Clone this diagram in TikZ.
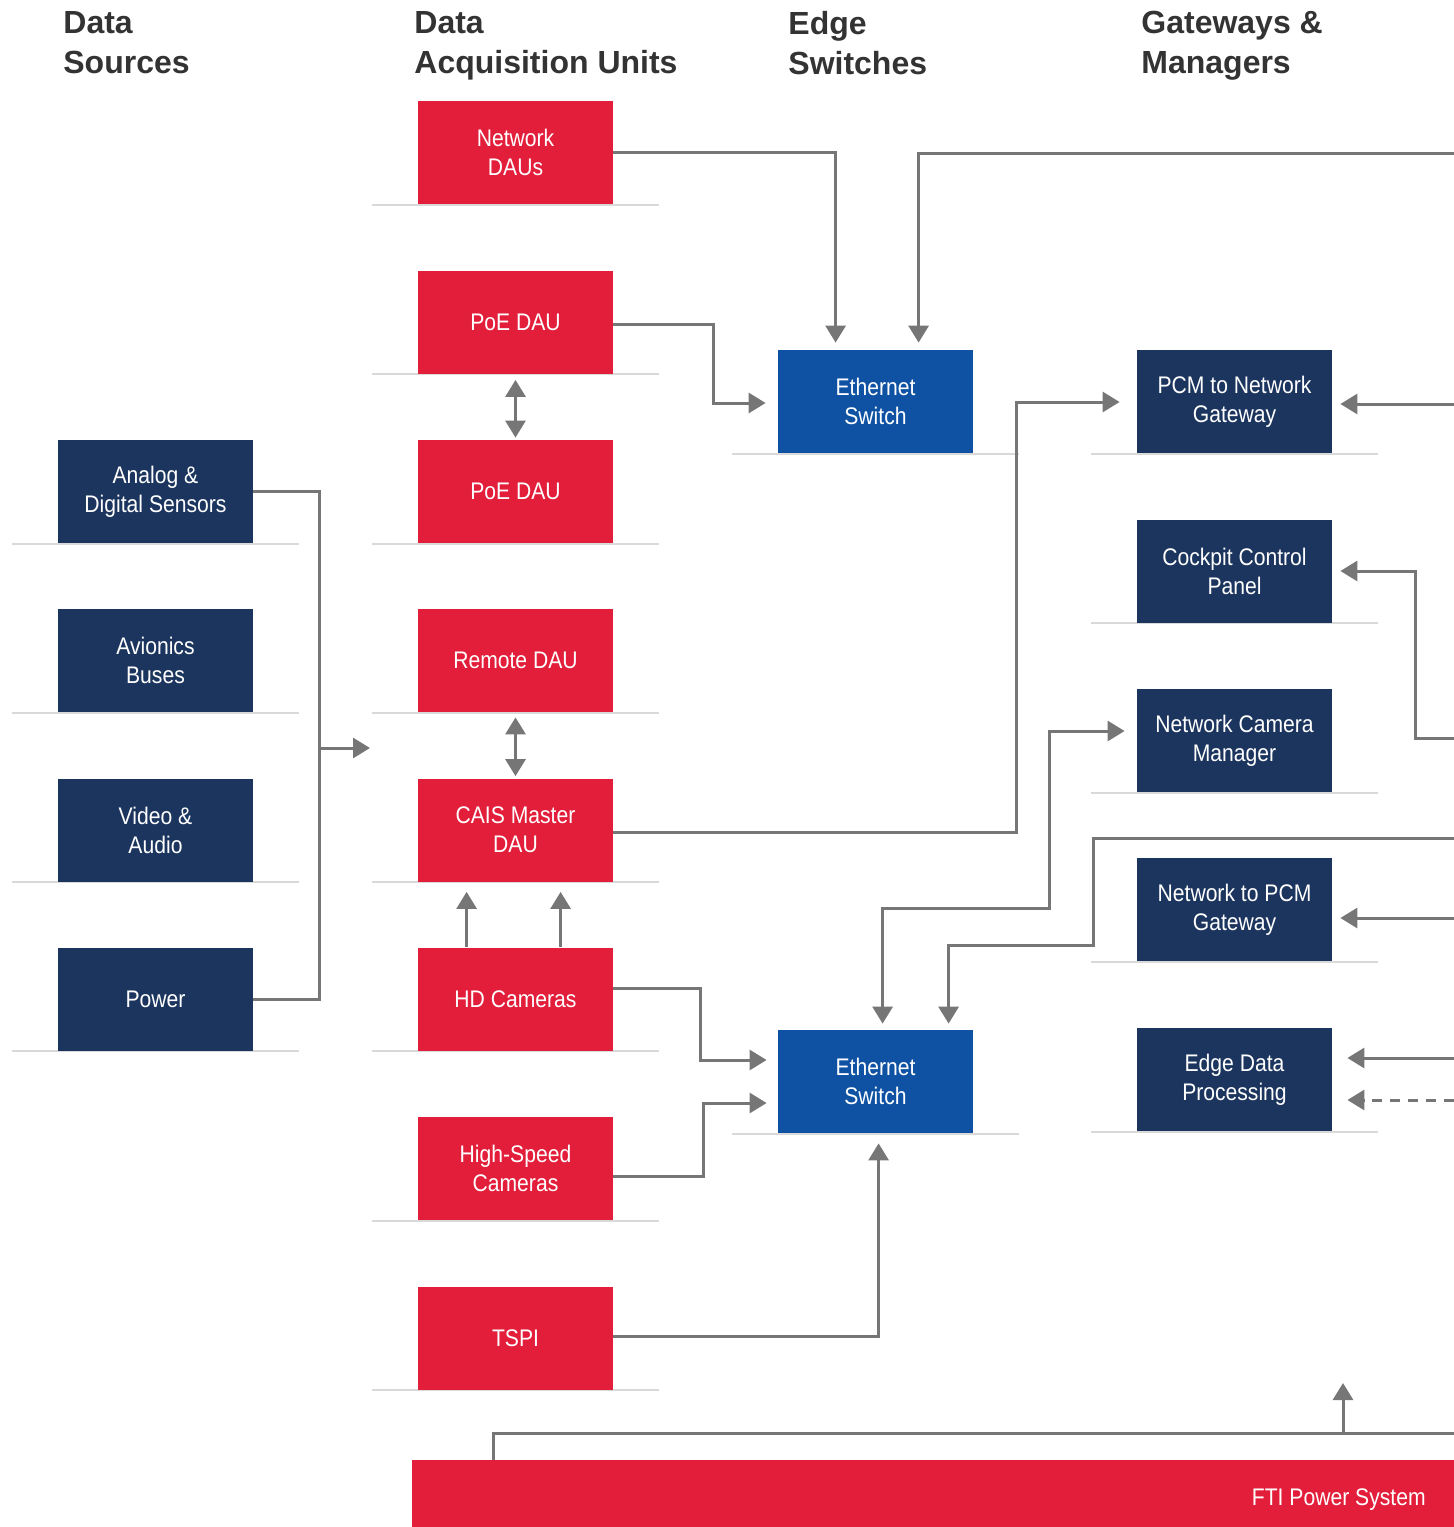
\documentclass[tikz,border=0pt]{standalone}
\usepackage{fontspec}
\setmainfont{Liberation Sans}
\newfontfamily\boxfont[FakeStretch=0.88]{Liberation Sans}
\newfontfamily\headfont{Liberation Sans}
\usetikzlibrary{arrows.meta,calc}
\definecolor{fred}{HTML}{E21E3A}
\definecolor{fnavy}{HTML}{1C355E}
\definecolor{fblue}{HTML}{0F52A3}
\definecolor{fline}{HTML}{767676}
\definecolor{fbase}{HTML}{D9D9D9}
\definecolor{fhead}{HTML}{333333}
\begin{document}
\begin{tikzpicture}[x=0.5pt,y=-0.5pt,
  box/.style={rectangle,minimum width=97.5pt,minimum height=51.5pt,inner sep=0pt,
    text=white,align=center,font=\boxfont\fontsize{12}{14.5}\selectfont},
  redbox/.style={box,fill=fred},
  navybox/.style={box,fill=fnavy},
  bluebox/.style={box,fill=fblue},
  header/.style={anchor=north west,inner sep=0pt,align=left,text=fhead,
    font=\headfont\bfseries\fontsize{16}{20}\selectfont},
  baseln/.style={draw=fbase,line width=1pt},
  conn/.style={draw=fline,line width=1.5pt,
    arrows={-Triangle[length=8.5pt,width=10pt]}},
  conn2/.style={draw=fline,line width=1.5pt,
    arrows={Triangle[length=8.5pt,width=10pt]-Triangle[length=8.5pt,width=10pt]}},
  plain/.style={draw=fline,line width=1.5pt}
]
\useasboundingbox (0,0) rectangle (1454,1527);
\clip (0,0) rectangle (1454,1527);

% headers
\node[header] (h1) at (63,11) {Data\\Sources};
\node[header] (h2) at (414,11) {Data\\Acquisition Units};
\node[header] (h3) at (788,11) {Edge\\Switches};
\node[header] (h4) at (1141,11) {Gateways \&\\Managers};

% baselines
\foreach \y in {544,713,882,1051}{\draw[baseln] (12,\y) -- (299,\y);}
\foreach \y in {205,374,544,713,882,1051,1221,1390}{\draw[baseln] (372,\y) -- (659,\y);}
\foreach \y in {454,1134}{\draw[baseln] (732,\y) -- (1019,\y);}
\foreach \y in {454,623,793,962,1132}{\draw[baseln] (1091,\y) -- (1378,\y);}

% data sources
\node[navybox] (src1) at (155.5,491.5) {Analog \&\\Digital Sensors};
\node[navybox] (src2) at (155.5,660.5) {Avionics\\Buses};
\node[navybox] (src3) at (155.5,830) {Video \&\\Audio};
\node[navybox] (src4) at (155.5,999) {Power};

% DAUs
\node[redbox] (dau1) at (515.5,152.5) {Network\\DAUs};
\node[redbox] (dau2) at (515.5,322) {PoE DAU};
\node[redbox] (dau3) at (515.5,491.5) {PoE DAU};
\node[redbox] (dau4) at (515.5,660.5) {Remote DAU};
\node[redbox] (dau5) at (515.5,830) {CAIS Master\\DAU};
\node[redbox] (dau6) at (515.5,999) {HD Cameras};
\node[redbox] (dau7) at (515.5,1168.5) {High-Speed\\Cameras};
\node[redbox] (dau8) at (515.5,1338) {TSPI};

% switches
\node[bluebox] (sw1) at (875.5,401.5) {Ethernet\\Switch};
\node[bluebox] (sw2) at (875.5,1081.5) {Ethernet\\Switch};

% gateways
\node[navybox] (gw1) at (1234.5,401.5) {PCM to Network\\Gateway};
\node[navybox] (gw2) at (1234.5,571) {Cockpit Control\\Panel};
\node[navybox] (gw3) at (1234.5,740.5) {Network Camera\\Manager};
\node[navybox] (gw4) at (1234.5,909.5) {Network to PCM\\Gateway};
\node[navybox] (gw5) at (1234.5,1079.5) {Edge Data\\Processing};

% FTI power
\node[rectangle,fill=fred,minimum width=521pt,minimum height=33.5pt,inner sep=0pt,
  anchor=north west] (fti) at (412,1460) {};
\node[anchor=base east,inner sep=0pt,text=white,font=\boxfont\fontsize{12}{14.5}\selectfont]
  (ftitext) at (1426,1505) {FTI Power System};

% free ends at the right edge
\coordinate (r1) at (1454,153);
\coordinate (r14) at (1454,404);
\coordinate (r15) at (1454,738);
\coordinate (r13) at (1454,838);
\coordinate (r16) at (1454,918);
\coordinate (r17) at (1454,1058);
\coordinate (r17d) at (1454,1100);
\coordinate (r18) at (1454,1433);
\coordinate (bus) at (319,748);
\coordinate (busin) at (370,748);

% connectors
\draw[conn] (dau1.east) -| ($(sw1.north west)+(58,-7)$);
\draw[conn] (r1) -| ($(sw1.north west)+(141,-7)$);
\draw[conn] ($(dau2.east)+(0,2)$) -- ++(100,0) |- ($(sw1.west)+(-12,1.5)$);
\draw[conn2] ($(dau2.south)+(0,6)$) -- ($(dau3.north)+(0,-2)$);
\draw[conn2] ($(dau4.south)+(0,5)$) -- ($(dau5.north)+(0,-2)$);
\draw[conn] ($(dau6.north west)+(49,0)$) -- ($(dau5.south west)+(49,10)$);
\draw[conn] ($(dau6.north west)+(143,0)$) -- ($(dau5.south west)+(143,10)$);
\draw[plain] (src1.east) -- ++(66,0) |- (src4.east);
\draw[conn] (bus) -- (busin);
\draw[conn] ($(dau5.east)+(0,2)$) -- ++(403,0) |- ($(gw1.west)+(-17,0.5)$);
\draw[conn] ($(dau6.east)+(0,-11)$) -- ++(87,0) |- ($(sw2.west)+(-11,-21.5)$);
\draw[conn] ($(dau7.east)+(0,7.5)$) -- ++(90,0) |- ($(sw2.west)+(-11,21.5)$);
\draw[conn] ($(dau8.east)+(0,-2)$) -| ($(sw2.south west)+(101,10)$);
\draw[conn2] ($(sw2.north west)+(105,-6)$) -- ++(0,-115) -- ++(167,0) |- ($(gw3.west)+(-12,-9.5)$);
\draw[conn] (r13) -- ++(-361,0) -- ++(0,107) -| ($(sw2.north west)+(171,-6)$);
\draw[conn] (r14) -- ($(gw1.east)+(8,2.5)$);
\draw[conn] (r15) -- ++(-39,0) |- ($(gw2.east)+(8,0)$);
\draw[conn] (r16) -- ($(gw4.east)+(8,8.5)$);
\draw[conn] (r17) -- ($(gw5.east)+(15,-21.5)$);
\draw[conn,dash pattern=on 5pt off 4pt] (r17d) -- ($(gw5.east)+(15,20.5)$);
\draw[plain] ($(fti.north west)+(81,0)$) |- (r18);
\draw[conn] ($(fti.north west)+(931,-27)$) -- ++(0,-50);
\end{tikzpicture}
\end{document}
